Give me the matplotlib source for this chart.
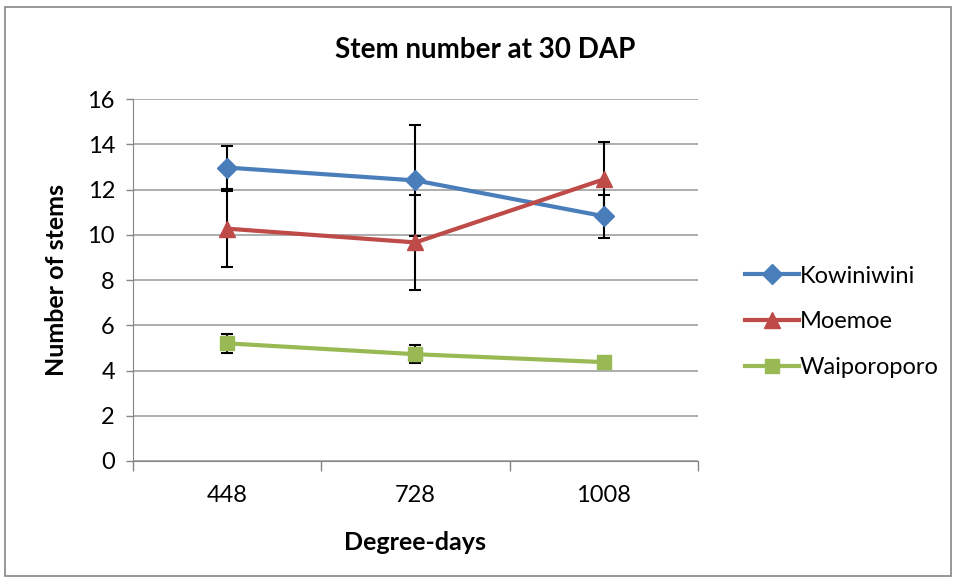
import matplotlib.pyplot as plt
from matplotlib.patches import Rectangle

# Data
grados = ['448', '728', '1008']
kowiniwini = [12.97, 12.40, 10.82]
kowiniwini_err = [0.95, 2.47, 0.95]
moemoe = [10.27, 9.66, 12.45]
moemoe_err = [1.68, 2.08, 1.63]
waiporoporo = [5.20, 4.72, 4.37]
waiporoporo_err = [0.41, 0.41, 0.20]

plt.rcParams['font.family'] = ['Lato', 'DejaVu Sans']

fig = plt.figure(figsize=(9.58, 5.79), dpi=100)
ax = fig.add_axes([0.1388, 0.2038, 0.5898, 0.6252])

x = list(range(len(grados)))
err_kw = dict(ecolor='black', elinewidth=1.5, capsize=4, capthick=1.5)
ax.errorbar(x, kowiniwini, yerr=kowiniwini_err, color='#4A7EBB', lw=3,
            marker='D', ms=10, label='Kowiniwini', zorder=3, **err_kw)
ax.errorbar(x, moemoe, yerr=moemoe_err, color='#BE4B48', lw=3,
            marker='^', ms=11, label='Moemoe', zorder=3, **err_kw)
ax.errorbar(x, waiporoporo, yerr=waiporoporo_err, color='#98B954', lw=3,
            marker='s', ms=10.5, label='Waiporoporo', zorder=3, **err_kw)

ax.set_xlim(-0.5, 2.5)
ax.set_ylim(0, 16)
ax.set_yticks(range(0, 17, 2))
ax.set_xticks(x)
ax.set_xticklabels(grados)
ax.set_xticks([-0.5, 0.5, 1.5, 2.5], minor=True)
ax.tick_params(axis='x', which='major', length=0, pad=17, labelsize=17)
ax.tick_params(axis='x', which='minor', length=7, width=1, color='#868686')
ax.tick_params(axis='y', length=5, width=1, color='#868686', labelsize=17, pad=8)
ax.grid(axis='y', color='#A0A0A0', lw=1.2)
ax.set_axisbelow(True)
for s in ['top', 'right']:
    ax.spines[s].set_visible(False)
ax.spines['left'].set_color('#868686')
ax.spines['bottom'].set_color('#868686')

# titulo centrado en el area del grafico
fig.text(0.506, 0.914, 'Stem number at 30 DAP', fontsize=20, fontweight='bold',
         ha='center', va='center')
ax.set_xlabel('Degree-days', fontsize=18, fontweight='bold', labelpad=18)
ax.set_ylabel('Number of stems', fontsize=18, fontweight='bold', labelpad=14)

handles, labels = ax.get_legend_handles_labels()
handles = [h[0] for h in handles]
fig.legend(handles, labels, loc='center left', bbox_to_anchor=(0.755, 0.444),
           frameon=False, fontsize=17, handlelength=2.3, labelspacing=1.05,
           handletextpad=0.05)

fig.patches.append(Rectangle((0.005, 0.005), 0.988, 0.983, transform=fig.transFigure,
                             fill=False, edgecolor='#868686', lw=1.2))

plt.savefig('out.png', dpi=100)
